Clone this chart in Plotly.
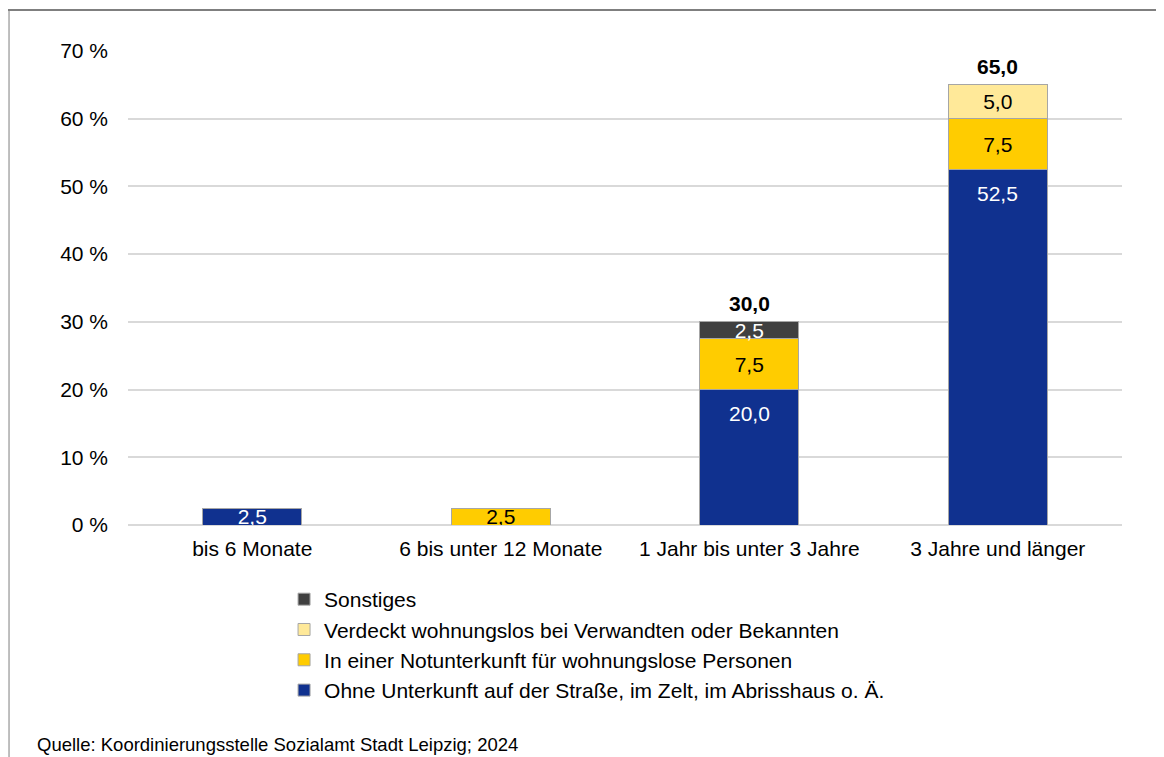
import plotly.graph_objects as go

categories = ["bis 6 Monate", "6 bis unter 12 Monate", "1 Jahr bis unter 3 Jahre", "3 Jahre und länger"]

ohne = [2.5, None, 20.0, 52.5]
notunterkunft = [None, 2.5, 7.5, 7.5]
verdeckt = [None, None, None, 5.0]
sonstiges = [None, None, 2.5, None]

total_cats = ["1 Jahr bis unter 3 Jahre", "3 Jahre und länger"]
totals = [30.0, 65.0]

series = [
    ("Ohne Unterkunft auf der Straße, im Zelt, im Abrisshaus o. Ä.", ohne, "#10318F", "white"),
    ("In einer Notunterkunft für wohnungslose Personen", notunterkunft, "#FFCC00", "black"),
    ("Verdeckt wohnungslos bei Verwandten oder Bekannten", verdeckt, "#FFE999", "black"),
    ("Sonstiges", sonstiges, "#404040", "white"),
]

font = "Liberation Sans, Arial, sans-serif"


def fmt(v):
    return f"{v:.1f}".replace(".", ",")


fig = go.Figure()
annotations = []
for i, (name, vals, color, tcolor) in enumerate(series):
    # tall segments get their label near the top (like Excel "inside end"),
    # short ones keep a centred label
    labels = [fmt(v) if v is not None and v < 10 else "" for v in vals]
    fig.add_trace(go.Bar(
        x=categories, y=vals, name=name, legendgroup=name,
        marker=dict(color=color, line=dict(color="#A6A6A6", width=1)),
        text=labels, texttemplate="%{text}", textposition="inside",
        insidetextanchor="middle", constraintext="none",
        textfont=dict(family=font, size=21, color=tcolor),
    ))
    for j, v in enumerate(vals):
        if v is not None and v >= 10:
            top = sum((s[1][j] or 0) for s in series[:i + 1])
            annotations.append(dict(
                x=categories[j], y=top, text=fmt(v), xanchor="center",
                yanchor="top", yshift=-10, showarrow=False,
                font=dict(family=font, size=21, color=tcolor)))

for c, t in zip(total_cats, totals):
    annotations.append(dict(
        x=c, y=t, text="<b>%s</b>" % fmt(t), xanchor="center",
        yanchor="bottom", yshift=5, showarrow=False,
        font=dict(family=font, size=21, color="black")))

annotations.append(
    dict(text="Quelle: Koordinierungsstelle Sozialamt Stadt Leipzig; 2024",
         xref="paper", yref="paper", x=-0.0936, y=-0.4641,
         xanchor="left", yanchor="middle", showarrow=False,
         font=dict(family=font, size=18.5, color="black"))
)

# page body has an 8px margin, so the figure is placed 8px in
fig.update_layout(
    width=1156, height=749,
    margin=dict(l=120, r=42, t=43, b=232),
    paper_bgcolor="white", plot_bgcolor="white",
    barmode="stack", bargap=0.6,
    separators=",.",
    font=dict(family=font, size=21, color="black"),
    legend=dict(
        orientation="v", traceorder="reversed", x=0.157, xanchor="left",
        y=-0.114, yanchor="top", tracegroupgap=8,
        font=dict(family=font, size=21), itemwidth=30,
    ),
    xaxis=dict(showline=False, ticks="", tickfont=dict(size=21), ticklabelstandoff=9),
    yaxis=dict(range=[0, 70], dtick=10, ticksuffix=" %", showgrid=True,
               gridcolor="#D9D9D9", gridwidth=2, zeroline=True,
               zerolinecolor="#D9D9D9", zerolinewidth=2, tickfont=dict(size=21),
               ticklabelstandoff=19),
    shapes=[
        dict(type="line", xref="paper", yref="paper", x0=-0.1207, x1=1.1,
             y0=1.0865, y1=1.0865, line=dict(color="#7F7F7F", width=2)),
        dict(type="line", xref="paper", yref="paper", x0=-0.1197, x1=-0.1197,
             y0=1.0865, y1=-0.6, line=dict(color="#7F7F7F", width=1)),
    ],
    annotations=annotations,
)

fig.write_html("out.html")
